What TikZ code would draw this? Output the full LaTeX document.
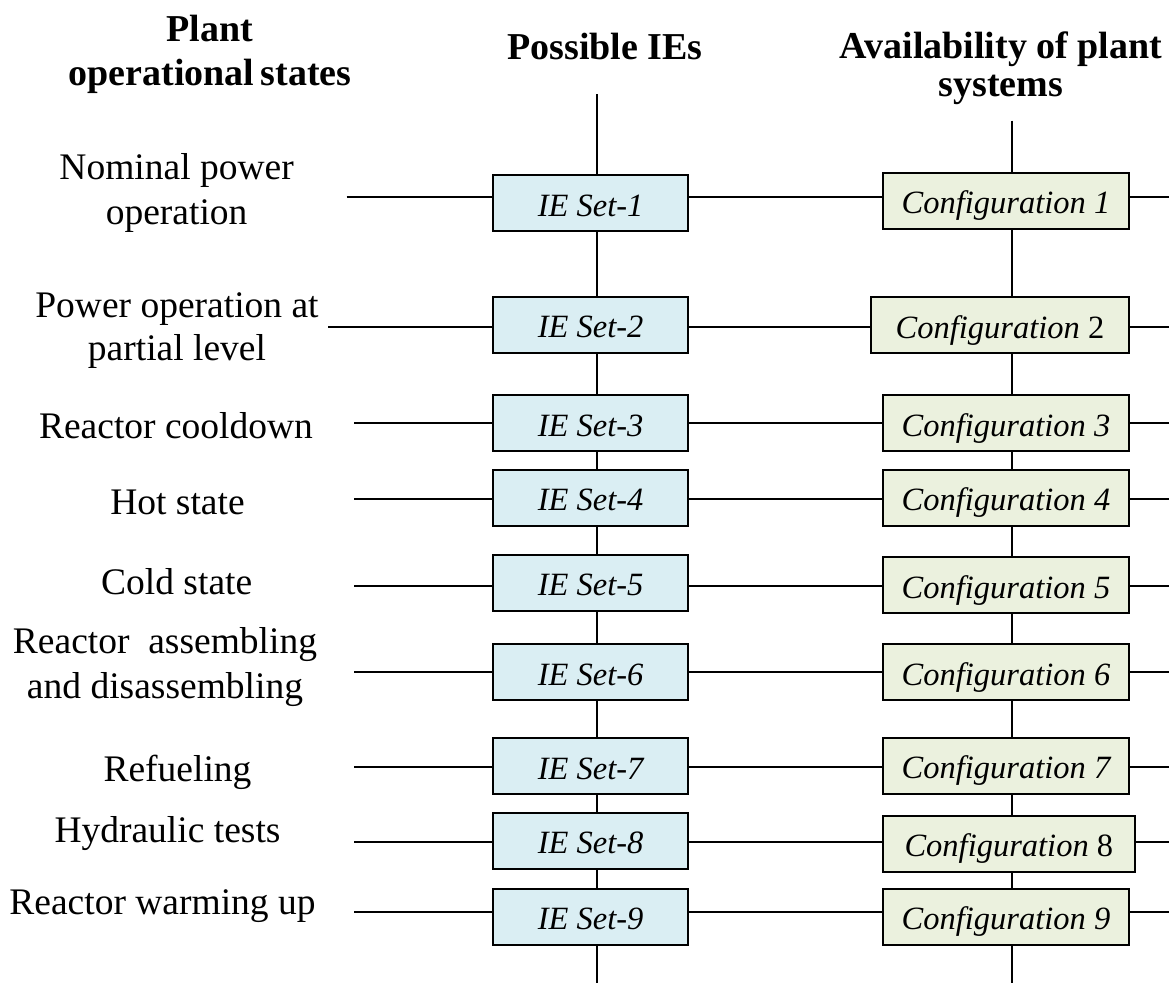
\documentclass[tikz,border=0pt]{standalone}
\usepackage{fontspec}
\setmainfont{Liberation Serif}
\definecolor{ieblue}{HTML}{DAEEF3}
\definecolor{cfggreen}{HTML}{EBF1DE}
\begin{document}
\begin{tikzpicture}[x=0.5pt,y=-0.5pt,
  wire/.style={line width=1pt},
  boxbase/.style={draw=black, line width=1pt, inner sep=0pt,
    minimum height=28pt, text height=13pt, text depth=0pt,
    font=\fontsize{16.25}{18}\selectfont\itshape},
  ieset/.style={boxbase, fill=ieblue, minimum width=97.4pt},
  cfg/.style={boxbase, fill=cfggreen, minimum width=123pt},
  state/.style={font=\fontsize{18.75}{22.5}\selectfont, align=center,
    anchor=base, inner sep=0pt},
  head/.style={state, font=\fontsize{19}{22}\selectfont\bfseries}]
\useasboundingbox (0,0) rectangle (1169,983);

% column headings (multi-line nodes sit on the baseline of their last line)
\node[head, font=\fontsize{19}{22.2}\selectfont\bfseries] (hstates) at (210,86) {Plant\\operational\,states};
\node[head] (hies) at (605,60) {Possible IEs};
\node[head, font=\fontsize{19}{19.2}\selectfont\bfseries] (hcfg) at (1001,96.7) {Availability of plant\\systems};

% operational states
\node[state] (st1) at (176.6,225) {Nominal power\\operation};
\node[state, font=\fontsize{18.75}{21.7}\selectfont] (st2) at (177,361) {Power operation at\\partial level};
\node[state] (st3) at (176,438.3) {Reactor cooldown};
\node[state] (st4) at (177.5,515) {Hot state};
\node[state] (st5) at (176.7,595) {Cold state};
\node[state] (st6) at (165,698.3) {Reactor~~assembling\\and disassembling};
\node[state] (st7) at (177.5,781.7) {Refueling};
\node[state] (st8) at (167.5,842.7) {Hydraulic tests};
\node[state] (st9) at (162.5,914.3) {Reactor warming up};

% initiating event sets
\node[ieset] (b1) at (590.65,203.35) {IE Set-1};
\node[ieset] (b2) at (590.65,325) {IE Set-2};
\node[ieset] (b3) at (590.65,423.3) {IE Set-3};
\node[ieset] (b4) at (590.65,497.7) {IE Set-4};
\node[ieset] (b5) at (590.65,582.85) {IE Set-5};
\node[ieset] (b6) at (590.65,672.15) {IE Set-6};
\node[ieset] (b7) at (590.65,766.15) {IE Set-7};
\node[ieset] (b8) at (590.65,841) {IE Set-8};
\node[ieset] (b9) at (590.65,916.85) {IE Set-9};

% system configurations
\node[cfg] (g1) at (1006,200.85) {Configuration 1};
\node[cfg, minimum width=129pt] (g2) at (1000,325.15) {Configuration {\upshape 2}};
\node[cfg] (g3) at (1006,423.3) {Configuration 3};
\node[cfg] (g4) at (1006,497.7) {Configuration 4};
\node[cfg] (g5) at (1006,585.15) {Configuration 5};
\node[cfg] (g6) at (1006,672.15) {Configuration 6};
\node[cfg] (g7) at (1006,765.85) {Configuration 7};
\node[cfg, minimum width=125.9pt] (g8) at (1008.85,843.65) {Configuration {\upshape 8}};
\node[cfg] (g9) at (1006,916.85) {Configuration 9};

% ends of the vertical spines
\coordinate (bt) at (597,94.3);
\coordinate (bb) at (597,983);
\coordinate (gt) at (1012.3,120.7);
\coordinate (gb) at (1012.3,983);

% vertical spines
\draw[wire] (bt) -- (bt |- b1.north);
\draw[wire] (b9.south -| bt) -- (bb);
\draw[wire] (gt) -- (gt |- g1.north);
\draw[wire] (g9.south -| gt) -- (gb);
\foreach \i [count=\j from 2] in {1,...,8} {
  \draw[wire] (b\i.south -| bt) -- (b\j.north -| bt);
  \draw[wire] (g\i.south -| gt) -- (g\j.north -| gt);
}

% row lines: start points
\coordinate (s1) at (346.7,196.7);
\coordinate (s2) at (328,327.3);
\coordinate (s3) at (354.3,423.3);
\coordinate (s4) at (354.3,499.5);
\coordinate (s5) at (354.3,586.3);
\coordinate (s6) at (354.3,672.3);
\coordinate (s7) at (354.3,767.3);
\coordinate (s8) at (354.3,842);
\coordinate (s9) at (354.3,911.7);

\foreach \i in {1,...,9} {
  \coordinate (e\i) at (s\i -| 1169,0);
  \draw[wire] (s\i) -- (s\i -| b\i.west)
              (s\i -| b\i.east) -- (s\i -| g\i.west)
              (s\i -| g\i.east) -- (e\i);
}
\end{tikzpicture}
\end{document}
